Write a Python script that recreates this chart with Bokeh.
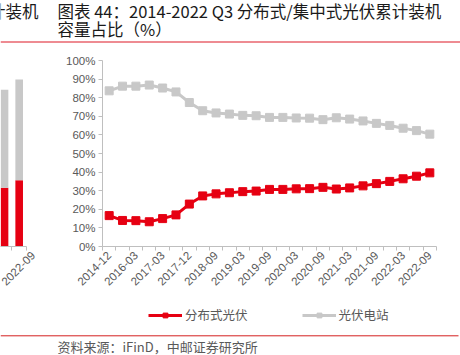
import math
from bokeh.plotting import figure
from bokeh.layouts import column, row
from bokeh.models import (Range1d, FixedTicker, PrintfTickFormatter, Legend, LegendItem)
from bokeh.core.properties import value
from bokeh.embed import file_html
from bokeh.resources import INLINE

# ---------------- data ----------------
categories = ["2014-12", "2015-12", "2016-03", "2016-09", "2017-03", "2017-06", "2017-12",
              "2018-06", "2018-09", "2018-12", "2019-03", "2019-06", "2019-09", "2019-12",
              "2020-03", "2020-06", "2020-09", "2020-12", "2021-03", "2021-06", "2021-09",
              "2021-12", "2022-03", "2022-06", "2022-09"]
distributed = [16.6, 14.0, 13.9, 13.3, 15.0, 17.0, 22.8, 27.2, 28.3, 28.9, 29.5, 29.8, 30.7,
               30.7, 31.0, 31.1, 31.8, 30.9, 31.5, 32.6, 33.8, 35.0, 36.4, 37.8, 39.6]
utility = [83.7, 86.2, 86.2, 86.8, 85.2, 83.1, 77.4, 73.0, 71.8, 71.2, 70.5, 70.3, 69.4,
           69.4, 69.1, 69.0, 68.2, 69.2, 68.5, 67.5, 66.2, 65.1, 63.6, 62.3, 60.4]
y_ticks = [0, 10, 20, 30, 40, 50, 60, 70, 80, 90, 100]
series_names = ["分布式光伏", "光伏电站"]

# fragment of the neighbouring chart (cumulative capacity, GW)
frag_labels = ["2022-06", "2022-09"]
frag_distributed = [126, 142]
frag_total = [336, 358]

RED = "#E60012"
GRAY = "#C8C8C8"
AXIS = "#BFBFBF"
TXT = "#595959"
CJK = "Noto Sans CJK SC"
LAT = "Liberation Sans"

W = 460
ROW_H = 253      # y 45 .. 298
LEG_H = 32       # y 298 .. 330
BORDER_T = 15
BORDER_B = 52

# ---------------- top (titles) ----------------
top = figure(width=W, height=45, x_range=Range1d(0, W), y_range=Range1d(45, 0),
             x_axis_type=None, y_axis_type=None, toolbar_location=None,
             output_backend="svg", min_border=0, outline_line_color=None)
top.text(x=[38], y=[10], text=["累计装机"], text_align="right", text_baseline="middle",
         text_font=value(CJK), text_font_size="16.5px", text_color="#1a1a1a")
top.text(x=[57, 57], y=[10, 28.5],
         text=["图表 44：2014-2022 Q3 分布式/集中式光伏累计装机", "容量占比（%）"],
         text_align="left", text_baseline="middle",
         text_font=value(CJK), text_font_size="16.5px", text_color="#1a1a1a")
top.segment(x0=[0], y0=[41.5], x1=[W], y1=[41.5], line_color="#E8646E", line_width=1.5)

# ---------------- left fragment ----------------
left = figure(width=57, height=ROW_H, x_range=Range1d(-0.276, 1.5), y_range=Range1d(0, 399),
              y_axis_type=None, toolbar_location=None, output_backend="svg",
              min_border_left=0, min_border_right=31, min_border_top=BORDER_T,
              min_border_bottom=BORDER_B, outline_line_color=None)
fx = list(range(len(frag_labels)))
left.vbar(x=fx, bottom=0, top=frag_distributed, width=0.52, fill_color=RED, line_color=None)
left.vbar(x=fx, bottom=frag_distributed, top=frag_total, width=0.52, fill_color=GRAY, line_color=None)
left.grid.visible = False
lx = left.xaxis[0]
lx.ticker = FixedTicker(ticks=fx, minor_ticks=[i + 0.5 for i in fx])
lx.major_label_overrides = {0: "", 1: frag_labels[1]}
lx.major_label_orientation = math.pi / 4
lx.major_tick_out = 0
lx.major_tick_in = 0
lx.minor_tick_out = 4
lx.minor_tick_in = 0
lx.axis_line_color = AXIS
lx.minor_tick_line_color = AXIS
lx.major_label_text_font = LAT
lx.major_label_text_font_size = "11.5px"
lx.major_label_text_color = TXT
lx.major_label_standoff = 3

# ---------------- main chart ----------------
p = figure(width=W - 57, height=ROW_H, x_range=Range1d(-0.5, len(categories) - 0.5),
           y_range=Range1d(0, 100), toolbar_location=None, output_backend="svg",
           min_border_left=45, min_border_right=24, min_border_top=BORDER_T,
           min_border_bottom=BORDER_B, outline_line_color=None)
xs = list(range(len(categories)))
gl = p.line(x=xs, y=utility, line_color=GRAY, line_width=3)
gs = p.scatter(x=xs, y=utility, marker="square", size=8, fill_color=GRAY, line_color=GRAY)
rl = p.line(x=xs, y=distributed, line_color=RED, line_width=3)
rs = p.scatter(x=xs, y=distributed, marker="square", size=8, fill_color=RED, line_color=RED)
p.grid.visible = False

xa = p.xaxis[0]
xa.ticker = FixedTicker(ticks=xs, minor_ticks=[i - 0.5 for i in range(len(categories) + 1)])
xa.major_label_overrides = {i: (c if i % 2 == 0 else "") for i, c in enumerate(categories)}
xa.major_label_orientation = math.pi / 4
xa.major_tick_out = 0
xa.major_tick_in = 0
xa.minor_tick_out = 4
xa.minor_tick_in = 0
xa.major_label_standoff = 3

ya = p.yaxis[0]
ya.ticker = FixedTicker(ticks=y_ticks)
ya.formatter = PrintfTickFormatter(format="%d%%")
ya.major_tick_out = 4
ya.major_tick_in = 0
ya.major_label_standoff = 3

for ax in (xa, ya):
    ax.axis_line_color = AXIS
    ax.major_tick_line_color = AXIS
    ax.major_label_text_font = LAT
    ax.major_label_text_font_size = "11.5px"
    ax.major_label_text_color = TXT
xa.minor_tick_line_color = AXIS
ya.minor_tick_line_color = None

# ---------------- legend strip ----------------
# the same series, drawn off-range so only their legend glyphs show
lg = figure(width=W, height=LEG_H, x_range=Range1d(-1000, -999), y_range=Range1d(0, 1),
            x_axis_type=None, y_axis_type=None, toolbar_location=None,
            output_backend="svg", min_border=0, outline_line_color=None)
l_rl = lg.line(x=xs, y=distributed, line_color=RED, line_width=3)
l_rs = lg.scatter(x=xs, y=distributed, marker="square", size=8, fill_color=RED, line_color=RED)
l_gl = lg.line(x=xs, y=utility, line_color=GRAY, line_width=3)
l_gs = lg.scatter(x=xs, y=utility, marker="square", size=8, fill_color=GRAY, line_color=GRAY)
legend = Legend(items=[LegendItem(label=series_names[0], renderers=[l_rl, l_rs]),
                       LegendItem(label=series_names[1], renderers=[l_gl, l_gs])],
                orientation="horizontal", location=(148, 6), glyph_width=34, glyph_height=12,
                label_standoff=3, spacing=54, padding=0, margin=0,
                border_line_color=None, background_fill_alpha=0,
                label_text_font=CJK, label_text_font_size="12.5px", label_text_color=TXT)
lg.add_layout(legend, "center")

# ---------------- bottom (source) ----------------
bot = figure(width=W, height=25, x_range=Range1d(0, W), y_range=Range1d(25, 0),
             x_axis_type=None, y_axis_type=None, toolbar_location=None,
             output_backend="svg", min_border=0, outline_line_color=None)
bot.segment(x0=[0], y0=[5.3], x1=[458], y1=[5.3], line_color="#D42020", line_width=1)
bot.text(x=[57], y=[16], text=["资料来源：iFinD，中邮证券研究所"], text_align="left",
         text_baseline="middle", text_font=value(CJK), text_font_size="13px", text_color=TXT)

layout = column(top, row(left, p, spacing=0), lg, bot, spacing=0)
open("out.html", "w").write(file_html(layout, INLINE))
